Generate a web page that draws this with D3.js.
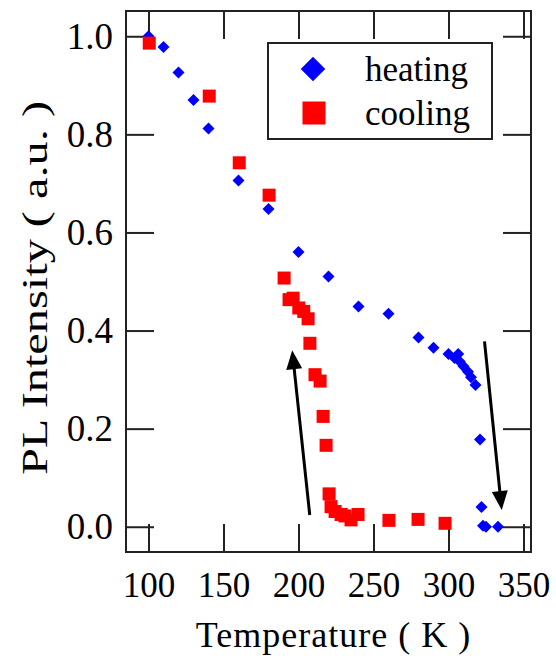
<!DOCTYPE html>
<html>
<head>
<meta charset="utf-8">
<script src="https://cdn.jsdelivr.net/npm/d3@7"></script>
<style>
  html, body { margin: 0; padding: 0; background: #fff; }
  svg { display: block; }
</style>
</head>
<body>
<svg id="chart" width="556" height="664"></svg>
<script>
// ---- data ----
const heatingT = [100, 110, 120, 130, 140, 160, 180, 200, 220, 240, 260, 280, 290, 300, 304, 306.5, 307.5, 310, 313, 315, 318, 321, 322, 323, 325, 333];
const heatingI = [1.0, 0.978, 0.926, 0.870, 0.812, 0.706, 0.648, 0.560, 0.510, 0.449, 0.434, 0.386, 0.365, 0.352, 0.344, 0.352, 0.337, 0.327, 0.316, 0.305, 0.289, 0.178, 0.040, 0.002, 0.0, 0.0];
const coolingT = [100.5, 140.5, 160.5, 180.4, 190.4, 193.7, 196.4, 200.2, 203.5, 206.4, 207.6, 211, 214.4, 216.4, 218.4, 220.4, 221.7, 224.4, 228.4, 231, 235, 239.7, 260.3, 279.7, 297.7];
const coolingI = [0.986, 0.878, 0.742, 0.676, 0.507, 0.463, 0.466, 0.446, 0.439, 0.424, 0.374, 0.310, 0.297, 0.225, 0.166, 0.067, 0.041, 0.031, 0.025, 0.022, 0.014, 0.025, 0.013, 0.015, 0.007];
const xTicks = [100, 150, 200, 250, 300, 350];
const yTicks = [0.0, 0.2, 0.4, 0.6, 0.8, 1.0];
const seriesNames = ["heating", "cooling"];
const seriesColors = ["#0000ff", "#ff0000"];
// arrows: [T0, I0, T1, I1]
const arrowUp = [207.5, 0.024, 195.8, 0.360];
const arrowDown = [324, 0.378, 335.5, 0.034];

// ---- layout ----
const FONT = "'Liberation Serif', 'Times New Roman', Times, serif";
const svg = d3.select("#chart");
const L = 126, R = 531, T = 11, B = 552;
const x = d3.scaleLinear().domain([85, 355]).range([L, R]);
const y = d3.scaleLinear().domain([-0.0515, 1.0515]).range([B, T]);
const tickLen = 28;
const axisColor = "#222";

function styleAxis(g) {
  g.attr("font-family", FONT);
  g.select(".domain").remove();
  g.selectAll(".tick line").attr("stroke", axisColor).attr("stroke-width", 2);
  g.selectAll("text").attr("font-family", FONT).attr("fill", "#000").attr("font-size", 35);
}

// bottom axis
svg.append("g").attr("transform", `translate(0,${B})`)
  .call(d3.axisBottom(x).tickValues(xTicks).tickSize(-tickLen).tickPadding(20).tickFormat(d3.format("d")))
  .call(styleAxis);
// top axis
svg.append("g").attr("transform", `translate(0,${T})`)
  .call(d3.axisTop(x).tickValues(xTicks).tickSize(-tickLen).tickFormat(""))
  .call(styleAxis);
// left axis
svg.append("g").attr("transform", `translate(${L},0)`)
  .call(d3.axisLeft(y).tickValues(yTicks).tickSize(-tickLen).tickPadding(13).tickFormat(d3.format(".1f")))
  .call(styleAxis)
  .selectAll("text").attr("font-size", 37);
// right axis
svg.append("g").attr("transform", `translate(${R},0)`)
  .call(d3.axisRight(y).tickValues(yTicks).tickSize(-tickLen).tickFormat(""))
  .call(styleAxis);

// frame
svg.append("rect").attr("x", L).attr("y", T).attr("width", R - L).attr("height", B - T)
  .attr("fill", "none").attr("stroke", axisColor).attr("stroke-width", 2);

// axis titles
svg.append("text").attr("x", (L + R) / 2 + 5).attr("y", 647).attr("text-anchor", "middle")
  .attr("font-family", FONT).attr("font-size", 36).attr("letter-spacing", 1).text("Temperature ( K )");
svg.append("text").attr("transform", `translate(47,288) rotate(-90)`).attr("text-anchor", "middle")
  .attr("font-family", FONT).attr("font-size", 36)
  .attr("textLength", 374).attr("lengthAdjust", "spacingAndGlyphs").text("PL Intensity ( a.u. )");

// data
const heating = heatingT.map((t, i) => ({ t, v: heatingI[i] }));
const cooling = coolingT.map((t, i) => ({ t, v: coolingI[i] }));
const sq = 13;

svg.append("g").selectAll("path").data(heating).join("path")
  .attr("d", d3.symbol().type(d3.symbolSquare).size(72))
  .attr("transform", d => `translate(${x(d.t)},${y(d.v)}) rotate(45)`)
  .attr("fill", seriesColors[0]);

svg.append("g").selectAll("rect").data(cooling).join("rect")
  .attr("x", d => x(d.t) - sq / 2).attr("y", d => y(d.v) - sq / 2)
  .attr("width", sq).attr("height", sq).attr("fill", seriesColors[1]);

// arrows
[arrowUp, arrowDown].forEach(a => {
  const x0 = x(a[0]), y0 = y(a[1]), x1 = x(a[2]), y1 = y(a[3]);
  const ang = Math.atan2(y1 - y0, x1 - x0);
  const hl = 19, hw = 8;
  const bx = x1 - hl * Math.cos(ang), by = y1 - hl * Math.sin(ang);
  const px = -Math.sin(ang) * hw, py = Math.cos(ang) * hw;
  svg.append("line")
    .attr("x1", x0).attr("y1", y0).attr("x2", bx + 2 * Math.cos(ang)).attr("y2", by + 2 * Math.sin(ang))
    .attr("stroke", "#000").attr("stroke-width", 3);
  svg.append("path")
    .attr("d", `M${x1},${y1} L${bx + px},${by + py} L${bx - px},${by - py} Z`)
    .attr("fill", "#000");
});

// legend
const lg = svg.append("g");
lg.append("rect").attr("x", 268).attr("y", 43).attr("width", 224).attr("height", 96)
  .attr("fill", "#fff").attr("stroke", axisColor).attr("stroke-width", 2);
lg.append("path").attr("d", d3.symbol().type(d3.symbolSquare).size(300))
  .attr("transform", "translate(313,69) rotate(45)").attr("fill", seriesColors[0]);
lg.append("rect").attr("x", 302.5).attr("y", 101.5).attr("width", 23).attr("height", 23).attr("fill", seriesColors[1]);
lg.append("text").attr("x", 365).attr("y", 81).attr("font-family", FONT).attr("font-size", 35).text(seriesNames[0]);
lg.append("text").attr("x", 365).attr("y", 125).attr("font-family", FONT).attr("font-size", 35).text(seriesNames[1]);
</script>
</body>
</html>
